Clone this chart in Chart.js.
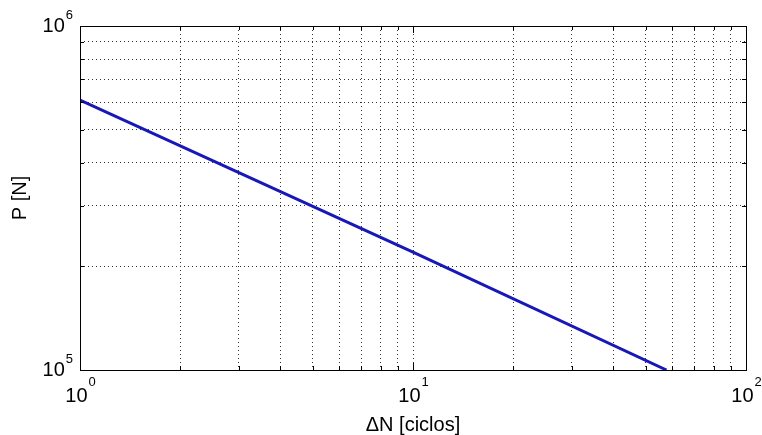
<!DOCTYPE html>
<html>
<head>
<meta charset="utf-8">
<script src="https://cdn.jsdelivr.net/npm/chart.js@4"></script>
<style>
  html, body { margin: 0; padding: 0; background: #fff; }
  #wrap { width: 762px; height: 435px; }
</style>
</head>
<body>
<div id="wrap"><canvas id="myChart"></canvas></div>
<script>
// valores (log-log)
const ciclos = [1, 10, 57.7];
const carga = [609000, 220000, 100000];

// linhas de grade e rótulos
const xGrade = [1, 2, 3, 4, 5, 6, 7, 8, 9, 10, 20, 30, 40, 50, 60, 70, 80, 90, 100];
const yGrade = [1e5, 2e5, 3e5, 4e5, 5e5, 6e5, 7e5, 8e5, 9e5, 1e6];
const xExpoentes = [0, 1, 2];
const yExpoentes = [5, 6];

const fonte = 'Liberation Sans, Arial, Helvetica, sans-serif';

function isMajor(v) {
    const e = Math.log10(v);
    return Math.abs(e - Math.round(e)) < 1e-9;
}

// caixa estilo MATLAB, ticks internos e rótulos 10^n
const caixaPlugin = {
    id: 'caixa',
    afterDraw(chart) {
        const ctx = chart.ctx;
        const a = chart.chartArea;
        const xs = chart.scales.x;
        const ys = chart.scales.y;
        ctx.save();
        ctx.strokeStyle = '#000';
        ctx.lineWidth = 1;
        ctx.setLineDash([]);
        ctx.strokeRect(Math.round(a.left) + 0.5, Math.round(a.top) + 0.5,
            Math.round(a.right - a.left), Math.round(a.bottom - a.top));

        ctx.beginPath();
        xGrade.forEach(v => {
            const px = Math.round(xs.getPixelForValue(v)) + 0.5;
            const len = isMajor(v) ? 7 : 4;
            ctx.moveTo(px, a.bottom); ctx.lineTo(px, a.bottom - len);
            ctx.moveTo(px, a.top); ctx.lineTo(px, a.top + len);
        });
        yGrade.forEach(v => {
            const py = Math.round(ys.getPixelForValue(v)) + 0.5;
            const len = isMajor(v) ? 7 : 4;
            ctx.moveTo(a.left, py); ctx.lineTo(a.left + len, py);
            ctx.moveTo(a.right, py); ctx.lineTo(a.right - len, py);
        });
        ctx.stroke();

        ctx.fillStyle = '#000';
        ctx.textBaseline = 'middle';
        ctx.textAlign = 'left';
        const fBase = '20px ' + fonte;
        const fSup = '13px ' + fonte;

        xExpoentes.forEach(e => {
            const px = xs.getPixelForValue(Math.pow(10, e));
            ctx.font = fBase;
            const w1 = ctx.measureText('10').width;
            ctx.font = fSup;
            const w2 = ctx.measureText(String(e)).width;
            const x0 = px - (w1 + w2) / 2;
            ctx.font = fBase;
            ctx.fillText('10', x0, a.bottom + 26);
            ctx.font = fSup;
            ctx.fillText(String(e), x0 + w1 + 1, a.bottom + 12);
        });

        yExpoentes.forEach(e => {
            const py = ys.getPixelForValue(Math.pow(10, e));
            ctx.font = fSup;
            const w2 = ctx.measureText(String(e)).width;
            ctx.font = fBase;
            const w1 = ctx.measureText('10').width;
            const x0 = a.left - 8 - w2 - w1;
            ctx.fillText('10', x0, py);
            ctx.font = fSup;
            ctx.fillText(String(e), x0 + w1 + 1, py - 11);
        });
        ctx.restore();
    }
};

new Chart(document.getElementById('myChart'), {
    type: 'line',
    data: {
        datasets: [{
            data: ciclos.map((n, i) => ({ x: n, y: carga[i] })),
            borderColor: '#1818b8',
            borderWidth: 3,
            pointRadius: 0,
            fill: false,
            tension: 0
        }]
    },
    options: {
        responsive: true,
        maintainAspectRatio: false,
        animation: false,
        layout: { padding: { left: 0, right: 16, top: 26, bottom: 0 } },
        plugins: {
            legend: { display: false },
            tooltip: { enabled: false }
        },
        scales: {
            x: {
                type: 'logarithmic',
                min: 1,
                max: 100,
                afterBuildTicks: s => { s.ticks = xGrade.map(v => ({ value: v })); },
                ticks: { display: false, autoSkip: false },
                grid: { color: '#333', lineWidth: 1, drawTicks: false },
                border: { display: false, dash: [1, 3] },
                title: {
                    display: true,
                    text: 'ΔN [ciclos]',
                    color: '#000',
                    font: { family: fonte, size: 20, lineHeight: 1 },
                    padding: { top: 45, bottom: 0 }
                }
            },
            y: {
                type: 'logarithmic',
                min: 1e5,
                max: 1e6,
                afterBuildTicks: s => { s.ticks = yGrade.map(v => ({ value: v })); },
                ticks: { display: false, autoSkip: false },
                grid: { color: '#333', lineWidth: 1, drawTicks: false },
                border: { display: false, dash: [1, 3] },
                title: {
                    display: true,
                    text: 'P [N]',
                    color: '#000',
                    font: { family: fonte, size: 20, lineHeight: 1 },
                    padding: { top: 10, bottom: 50 }
                }
            }
        }
    },
    plugins: [caixaPlugin]
});
</script>
</body>
</html>
